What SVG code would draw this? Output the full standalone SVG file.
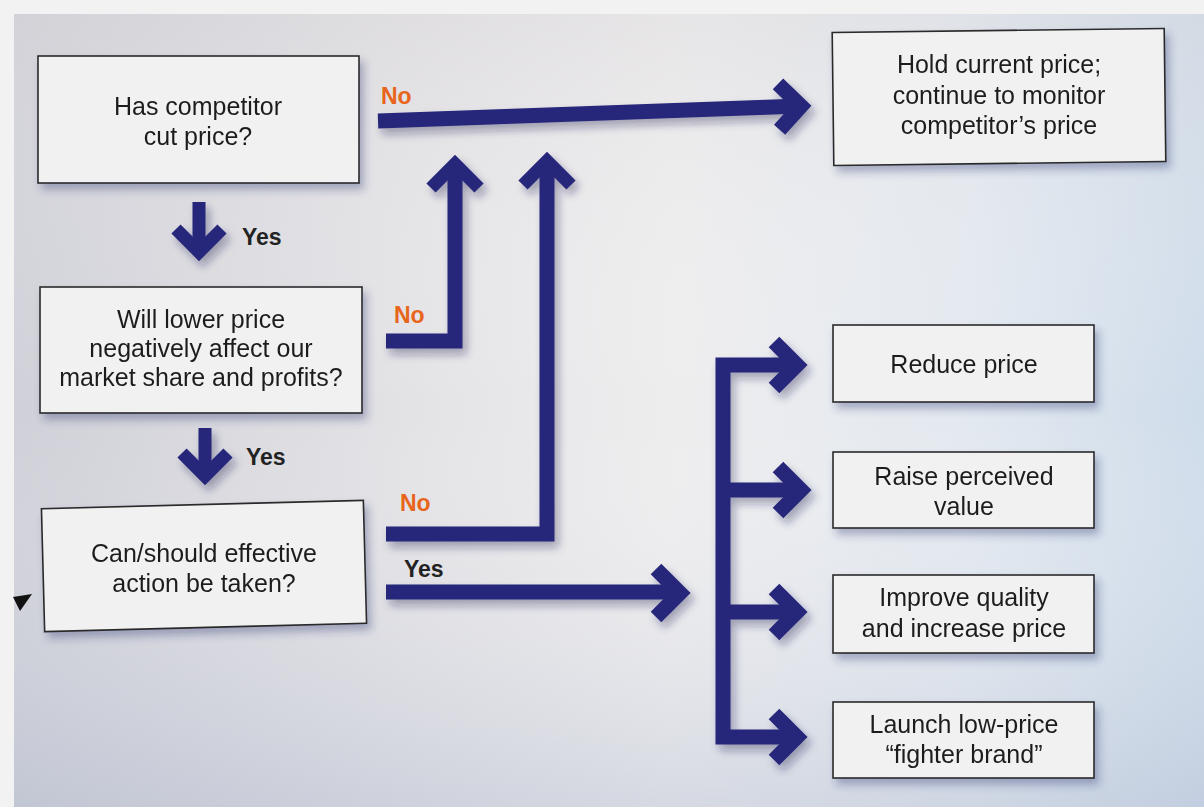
<svg xmlns="http://www.w3.org/2000/svg" width="1204" height="807" viewBox="0 0 1204 807">
  <defs>
    <linearGradient id="page" x1="0" y1="0" x2="1" y2="0">
      <stop offset="0" stop-color="#cfd0d8"/>
      <stop offset="0.35" stop-color="#e4e3e6"/>
      <stop offset="0.55" stop-color="#eeedee"/>
      <stop offset="0.8" stop-color="#e3e9f0"/>
      <stop offset="1" stop-color="#cfdcea"/>
    </linearGradient>
    <linearGradient id="shade" x1="0" y1="0" x2="0" y2="1">
      <stop offset="0" stop-color="#d9d6d8" stop-opacity="0.35"/>
      <stop offset="0.5" stop-color="#ffffff" stop-opacity="0"/>
      <stop offset="1" stop-color="#a9b4cc" stop-opacity="0.35"/>
    </linearGradient>
    <filter id="boxShadow" x="-10%" y="-20%" width="130%" height="150%">
      <feDropShadow dx="4" dy="6" stdDeviation="4" flood-color="#2c3170" flood-opacity="0.35"/>
    </filter>
    <filter id="arrowShadow" x="-10%" y="-10%" width="130%" height="130%">
      <feDropShadow dx="4" dy="6" stdDeviation="4" flood-color="#1f2350" flood-opacity="0.35"/>
    </filter>
    <style>
      .box { fill: #f1f1f2; stroke: #2a2a2a; stroke-width: 1.6; }
      .txt { font-family: "Liberation Sans", Arial, sans-serif; font-size: 25px; fill: #1e1e1e; text-anchor: middle; }
      .lbl { font-family: "Liberation Sans", Arial, sans-serif; font-size: 23px; font-weight: bold; }
      .no { fill: #e8651c; }
      .yes { fill: #222222; }
      .shaft { fill: none; stroke: #27267a; stroke-width: 15; stroke-linejoin: miter; stroke-linecap: butt; stroke-miterlimit: 4; }
      .thin { stroke-width: 13; }
    </style>
  </defs>

  <!-- background (photographed page) -->
  <rect x="0" y="0" width="1204" height="807" fill="#f2f2f2"/>
  <rect x="14" y="14" width="1190" height="793" fill="url(#page)"/>
  <rect x="14" y="14" width="1190" height="793" fill="url(#shade)"/>

  <!-- connectors -->
  <g id="connectors" filter="url(#arrowShadow)">
    <!-- No from box 1 to Hold -->
    <path class="shaft" d="M378 121 L801 106"/>
    <polyline class="shaft" points="778,83.8 801,106 779.6,129.8"/>
    <!-- Yes down arrows -->
    <path class="shaft thin" d="M199 202 V250"/>
    <polyline class="shaft thin" points="176,229 199,252 222,229"/>
    <path class="shaft thin" d="M205 428 V474"/>
    <polyline class="shaft thin" points="182,453 205,476 228,453"/>
    <!-- No from box 2 up -->
    <path class="shaft" d="M386 341 H455 V166"/>
    <polyline class="shaft thin" points="431,188 455,164 479,188"/>
    <!-- No from box 3 up -->
    <path class="shaft" d="M386 534 H547 V163"/>
    <polyline class="shaft thin" points="523,185 547,161 571,185"/>
    <!-- Yes from box 3 -->
    <path class="shaft" d="M386 592 H678"/>
    <polyline class="shaft" points="656,569 680,593 656,617"/>
    <!-- bracket to options -->
    <path class="shaft" d="M796 365 H723 V737 H796"/>
    <path class="shaft" d="M723 490 H798"/>
    <path class="shaft" d="M723 612 H796"/>
    <polyline class="shaft" points="774,342 797,365 774,388"/>
    <polyline class="shaft" points="778,467 801,490 778,513"/>
    <polyline class="shaft" points="774,589 797,612 774,635"/>
    <polyline class="shaft" points="774,714 797,737 774,760"/>
  </g>

  <!-- connector labels -->
  <g id="labels">
    <text class="lbl no" x="381" y="104">No</text>
    <text class="lbl yes" x="242" y="245">Yes</text>
    <text class="lbl no" x="394" y="323">No</text>
    <text class="lbl yes" x="246" y="465">Yes</text>
    <text class="lbl no" x="400" y="511">No</text>
    <text class="lbl yes" x="404" y="577">Yes</text>
  </g>

  <!-- nodes -->
  <g id="q1" filter="url(#boxShadow)">
    <rect class="box" x="38" y="56" width="321" height="127"/>
    <text class="txt" x="198" y="115">Has competitor</text>
    <text class="txt" x="198" y="145">cut price?</text>
  </g>
  <g id="q2" filter="url(#boxShadow)">
    <rect class="box" x="40" y="287" width="322" height="126"/>
    <text class="txt" x="201" y="328">Will lower price</text>
    <text class="txt" x="201" y="357">negatively affect our</text>
    <text class="txt" x="201" y="386">market share and profits?</text>
  </g>
  <g id="q3" filter="url(#boxShadow)">
    <rect class="box" x="43" y="504.5" width="322" height="123" transform="rotate(-1.5 204 566)"/>
    <text class="txt" x="204" y="562">Can/should effective</text>
    <text class="txt" x="204" y="592">action be taken?</text>
  </g>
  <g id="hold" filter="url(#boxShadow)">
    <rect class="box" x="833" y="30.5" width="332" height="133" transform="rotate(-0.7 999 97)"/>
    <text class="txt" x="999" y="73">Hold current price;</text>
    <text class="txt" x="999" y="104">continue to monitor</text>
    <text class="txt" x="999" y="134">competitor’s price</text>
  </g>
  <g id="reduce" filter="url(#boxShadow)">
    <rect class="box" x="833" y="325" width="261" height="77"/>
    <text class="txt" x="964" y="373">Reduce price</text>
  </g>
  <g id="raise" filter="url(#boxShadow)">
    <rect class="box" x="833" y="452" width="261" height="76"/>
    <text class="txt" x="964" y="485">Raise perceived</text>
    <text class="txt" x="964" y="515">value</text>
  </g>
  <g id="improve" filter="url(#boxShadow)">
    <rect class="box" x="833" y="575" width="261" height="78"/>
    <text class="txt" x="964" y="606">Improve quality</text>
    <text class="txt" x="964" y="637">and increase price</text>
  </g>
  <g id="launch" filter="url(#boxShadow)">
    <rect class="box" x="833" y="702" width="261" height="76"/>
    <text class="txt" x="964" y="733">Launch low-price</text>
    <text class="txt" x="964" y="763">“fighter brand”</text>
  </g>

  <!-- small mark at left edge -->
  <polygon points="13,597 32,594 20,611" fill="#111111"/>
</svg>
